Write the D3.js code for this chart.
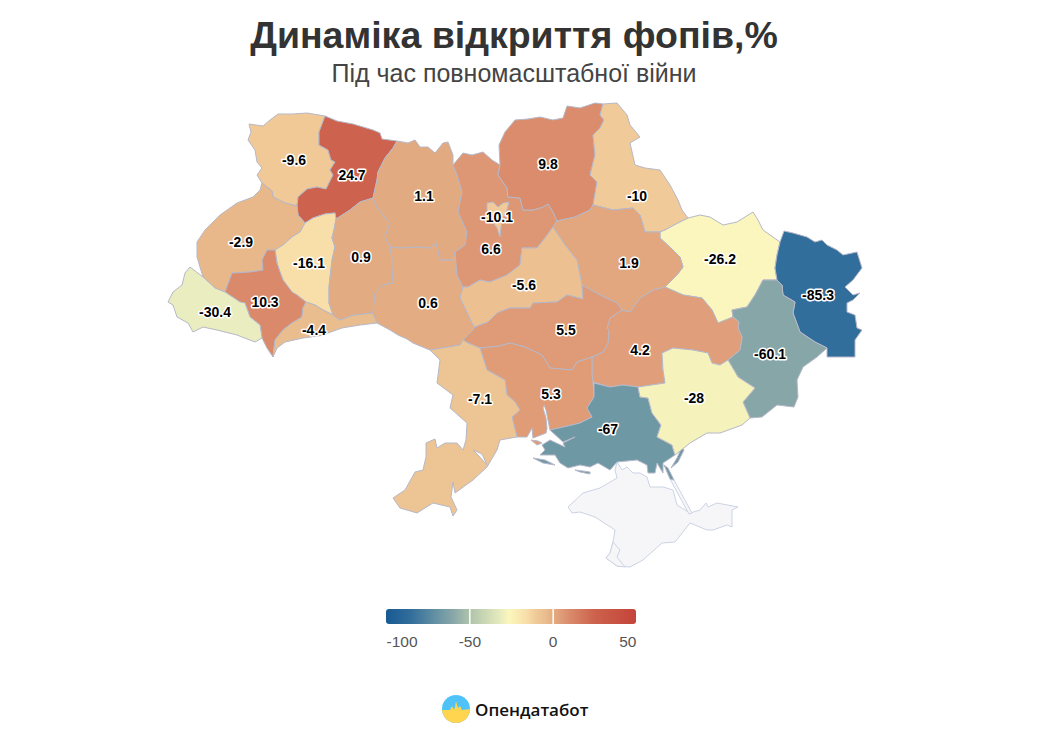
<!DOCTYPE html>
<html>
<head>
<meta charset="utf-8">
<title>Динаміка відкриття фопів</title>
<script src="https://d3js.org/d3.v7.min.js"></script>
<style>
  html, body { margin: 0; background: #fff; }
  text { font-family: "Liberation Sans", Arial, sans-serif; }
</style>
</head>
<body>
<svg id="chart" width="1039" height="736"></svg>
<script>
// region names and values
var regionNames = ['Волинська','Рівненська','Львівська','Тернопільська','Івано-Франківська','Закарпатська','Чернівецька','Хмельницька','Житомирська','Вінницька','Київська','м. Київ','Чернігівська','Сумська','Харківська','Луганська','Донецька','Дніпропетровська','Полтавська','Черкаська','Кіровоградська','Миколаївська','Одеська','Херсонська','Запорізька'];
var regionValues = [-9.6,24.7,-2.9,-16.1,10.3,-30.4,-4.4,0.9,1.1,0.6,6.6,-10.1,9.8,-10,-26.2,-85.3,-60.1,4.2,1.9,-5.6,5.5,5.3,-7.1,-67,-28];

// legend
var legendTicks = [-100,-50,0,50];
var colorDomain = [-100,-85,-67,-60,-50,-30,-28,-26,-16,-10,-5,0,5,10,25,50];
var colorRange = ['#175a93','#336e9b','#6f98a5','#87a6a8','#aec3ab','#ebeebf','#f5f3bb','#fbf6bd','#f8dfaa','#f0ca98','#ebbf90','#e3ae83','#e09c78','#da8b6c','#cd624d','#c4443a'];

// outlines, in map units
var volyn = [[249,124],[263,126],[270,120],[278,114],[293,114],[307,113],[325,116],[319,132],[319,145],[328,150],[331,160],[335,162],[330,170],[333,175],[326,189],[317,187],[307,189],[298,197],[297,206],[285,203],[273,197],[272,191],[262,183],[257,175],[262,168],[257,162],[255,150],[248,140],[251,132]];
var rivne = [[325,116],[337,121],[353,124],[373,130],[380,133],[382,139],[397,141],[393,148],[385,158],[378,172],[377,180],[373,198],[360,202],[350,210],[336,219],[335,213],[325,214],[313,218],[305,223],[298,215],[297,206],[298,197],[307,189],[317,187],[326,189],[333,175],[330,170],[335,162],[331,160],[328,150],[319,145],[319,132]];
var lviv = [[262,183],[272,191],[273,197],[285,203],[297,206],[298,215],[305,223],[300,232],[292,237],[283,245],[275,250],[267,250],[262,260],[263,270],[250,272],[232,273],[225,292],[215,288],[203,277],[197,257],[197,242],[205,230],[220,215],[237,203],[253,197],[260,190]];
var ternopil = [[275,250],[283,245],[292,237],[300,232],[305,223],[313,218],[325,214],[335,213],[336,219],[334,230],[332,238],[335,247],[332,260],[329,287],[329,303],[333,315],[323,310],[315,305],[306,302],[297,295],[292,292],[283,280],[280,272],[277,263]];
var frankivsk = [[267,250],[275,250],[277,263],[280,272],[283,280],[292,292],[297,295],[306,302],[303,308],[302,317],[292,323],[283,330],[275,340],[273,357],[267,348],[262,338],[260,325],[250,317],[245,303],[240,302],[225,292],[232,273],[250,272],[263,270],[262,260]];
var zakarpattia = [[190,267],[203,277],[215,288],[225,292],[240,302],[245,303],[250,317],[260,325],[262,338],[255,342],[237,335],[217,330],[203,327],[193,332],[188,323],[177,317],[173,305],[168,302],[173,292],[182,285],[185,273]];
var chernivtsi = [[275,340],[283,330],[292,323],[302,317],[303,308],[306,302],[315,305],[323,310],[333,315],[340,320],[353,315],[373,313],[377,323],[360,325],[342,328],[328,333],[325,335],[303,338],[285,342],[277,348],[273,357]];
var khmelnytskyi = [[336,219],[350,210],[360,202],[373,198],[377,207],[383,215],[390,223],[385,237],[390,247],[392,258],[392,268],[393,283],[383,285],[375,293],[373,313],[353,315],[340,320],[333,315],[329,303],[329,287],[332,260],[335,247],[332,238],[334,230]];
var zhytomyr = [[397,141],[408,143],[415,140],[420,147],[428,147],[435,153],[443,143],[448,142],[453,155],[453,165],[457,175],[462,192],[458,212],[467,232],[465,245],[455,252],[453,260],[440,260],[436,243],[430,248],[417,247],[400,248],[390,247],[385,237],[390,223],[383,215],[377,207],[373,198],[377,180],[378,172],[385,158],[393,148]];
var vinnytsia = [[390,247],[400,248],[417,247],[430,248],[436,243],[440,260],[453,260],[455,252],[457,275],[463,287],[460,298],[465,308],[473,325],[475,327],[473,330],[463,340],[460,345],[442,348],[430,350],[425,348],[413,343],[407,339],[398,335],[390,330],[377,323],[373,313],[375,293],[383,285],[393,283],[392,268],[392,258]];
var kyivOblast = [[453,165],[463,153],[472,155],[483,152],[492,160],[500,165],[498,175],[507,188],[508,197],[520,198],[523,210],[533,210],[543,207],[548,204],[553,212],[557,221],[553,227],[545,238],[537,248],[522,248],[520,265],[507,275],[490,282],[480,280],[468,287],[463,287],[457,275],[455,252],[465,245],[467,232],[458,212],[462,192],[457,175]];
var kyivCity = [[487,203],[493,202],[498,207],[503,203],[509,202],[507,210],[502,220],[501,227],[500,237],[497,228],[490,218],[487,212]];
var chernihiv = [[500,165],[499,145],[505,132],[515,120],[528,119],[540,117],[553,120],[563,118],[567,106],[580,108],[595,103],[603,104],[600,115],[604,120],[600,128],[593,135],[595,155],[590,175],[597,182],[593,205],[590,210],[575,217],[557,221],[553,212],[548,204],[543,207],[533,210],[523,210],[520,198],[508,197],[507,188],[498,175]];
var sumy = [[603,104],[617,103],[627,115],[630,125],[640,137],[630,143],[635,165],[645,168],[660,170],[670,185],[678,200],[682,210],[688,218],[678,223],[665,230],[660,232],[645,232],[640,215],[633,208],[613,210],[593,205],[597,182],[590,175],[595,155],[593,135],[600,128],[604,120],[600,115]];
var kharkiv = [[660,232],[665,230],[678,223],[688,218],[700,215],[710,217],[723,225],[737,222],[753,212],[758,220],[763,230],[780,242],[777,255],[775,268],[777,280],[763,280],[755,295],[747,307],[732,310],[733,317],[718,323],[712,310],[702,298],[683,295],[665,287],[677,275],[683,267],[680,257],[673,250],[660,238]];
var luhansk = [[780,242],[784,231],[793,233],[807,237],[815,242],[822,240],[827,245],[837,250],[843,255],[857,252],[862,268],[853,280],[845,287],[853,295],[860,293],[853,300],[847,303],[847,312],[855,315],[857,328],[862,330],[855,340],[855,357],[827,357],[827,348],[815,342],[800,332],[793,313],[795,302],[783,295],[782,285],[777,280],[775,268],[777,255]];
var donetsk = [[732,310],[747,307],[755,295],[763,280],[777,280],[782,285],[783,295],[795,302],[793,313],[800,332],[815,342],[827,348],[817,357],[803,367],[797,380],[798,397],[794,407],[777,405],[762,417],[750,418],[743,402],[755,388],[738,377],[728,360],[740,350],[742,337],[738,328],[739,322],[733,317]];
var dnipro = [[630,312],[640,298],[653,290],[665,287],[683,295],[702,298],[712,310],[718,323],[733,317],[739,322],[738,328],[742,337],[740,350],[728,360],[720,365],[712,363],[708,353],[693,350],[673,348],[662,353],[663,370],[665,383],[638,387],[623,385],[610,387],[593,382],[592,375],[592,357],[603,352],[608,343],[609,330],[607,328],[610,318],[622,310]];
var poltava = [[557,221],[575,217],[590,210],[593,205],[613,210],[633,208],[640,215],[645,232],[660,232],[660,238],[673,250],[680,257],[683,267],[677,275],[665,287],[653,290],[640,298],[630,312],[622,310],[617,303],[600,295],[582,285],[580,275],[577,260],[565,245],[553,227]];
var cherkasy = [[553,227],[565,245],[577,260],[580,275],[582,285],[583,299],[567,295],[557,302],[533,303],[530,308],[510,308],[497,313],[488,322],[475,327],[473,325],[465,308],[460,298],[463,287],[468,287],[480,280],[490,282],[507,275],[520,265],[522,248],[537,248],[545,238]];
var kirovohrad = [[463,340],[473,330],[475,327],[488,322],[497,313],[510,308],[530,308],[533,303],[557,302],[567,295],[583,299],[582,285],[600,295],[617,303],[622,310],[610,318],[607,328],[609,330],[608,343],[603,352],[592,357],[577,362],[572,370],[550,368],[542,355],[525,347],[510,343],[500,346],[480,348],[468,343]];
var mykolaiv = [[480,348],[500,346],[510,343],[525,347],[542,355],[550,368],[572,370],[577,362],[592,357],[592,375],[593,382],[594,397],[587,408],[592,417],[580,423],[572,425],[550,430],[548,420],[546,410],[544,405],[543,408],[546,418],[547,428],[546,433],[533,438],[532,428],[527,437],[517,437],[512,417],[520,410],[515,402],[507,395],[505,380],[487,370]];
var mykolaivTip = [[531,440],[538,441],[542,443],[537,445]];
var odesa = [[430,350],[442,348],[460,345],[463,340],[468,343],[480,348],[487,370],[505,380],[507,395],[515,402],[520,410],[512,417],[517,437],[500,440],[497,450],[487,467],[473,480],[455,493],[453,482],[451,497],[457,510],[453,516],[450,507],[433,503],[417,513],[400,508],[393,498],[405,490],[415,472],[423,470],[426,457],[426,443],[435,439],[437,448],[445,443],[457,443],[463,450],[466,440],[467,423],[450,408],[453,395],[437,383],[440,360]];
var odesaLiman = [[473,450],[482,454],[487,465],[478,455]];
var kherson = [[594,383],[610,387],[623,385],[638,387],[640,397],[648,398],[652,413],[661,425],[657,437],[672,445],[675,455],[663,463],[663,473],[657,463],[655,473],[648,473],[647,465],[637,460],[617,462],[610,470],[598,463],[590,467],[580,465],[568,468],[560,463],[555,455],[540,455],[545,450],[542,445],[550,440],[565,447],[563,443],[575,437],[563,442],[550,430],[572,425],[580,423],[592,417],[587,408],[594,397]];
var tendra = [[533,458],[545,460],[555,465],[543,463]];
var dzharylhach = [[575,470],[590,472],[590,474],[580,472]];
var arabatNorth = [[664,465],[668,468],[674,480],[670,479]];
var henichesk = [[671,468],[677,458],[682,447],[684,450],[678,462]];
var zaporizhzhia = [[638,387],[665,383],[663,370],[662,353],[673,348],[693,350],[708,353],[712,363],[720,365],[728,360],[738,377],[755,388],[743,402],[750,418],[742,425],[720,433],[707,433],[690,443],[675,455],[672,445],[657,437],[661,425],[652,413],[648,398],[640,397]];
var crimea = [[617,462],[615,470],[617,478],[600,488],[583,493],[568,507],[572,513],[580,512],[595,517],[615,530],[613,542],[610,553],[606,558],[617,566],[630,567],[643,560],[662,543],[675,542],[690,523],[707,530],[713,530],[727,525],[732,527],[732,510],[738,507],[717,503],[708,507],[706,503],[700,510],[690,513],[677,505],[673,490],[663,487],[650,487],[647,477],[640,473],[633,473],[627,467],[622,470]];
var sevastopol = [[613,542],[620,550],[617,557],[625,567],[617,566],[606,558],[610,553]];
var arabatSouth = [[670,479],[674,480],[692,513],[689,514]];

var regionRings = [[volyn],[rivne],[lviv],[ternopil],[frankivsk],[zakarpattia],[chernivtsi],[khmelnytskyi],[zhytomyr],[vinnytsia],[kyivOblast],[kyivCity],[chernihiv],[sumy],[kharkiv],[luhansk],[donetsk],[dnipro],[poltava],[cherkasy],[kirovohrad],[mykolaiv,mykolaivTip],[odesa,odesaLiman],[kherson,tendra,dzharylhach,arabatNorth,henichesk],[zaporizhzhia]];
var labelPoints = [[294,160],[352,175],[241,242],[309,263],[265,302],[215,312],[314,330],[361,257],[424,196],[428,303],[491,249],[497,217],[548,164],[637,196],[720,259],[818,295],[770,354],[640,350],[629,263],[524,285],[566,330],[551,394],[480,399],[608,429],[694,398]];

var svg = d3.select('#chart');
var color = d3.scaleLinear().domain(colorDomain).range(colorRange);
var path = d3.geoPath(d3.geoIdentity());

function closeRing(ring){ return ring.concat([ring[0]]); }
function toFeature(rings){
  return {type:'Feature', geometry:{type:'Polygon', coordinates:rings.map(closeRing)}};
}

// Crimea has no value, light grey
svg.append('g').selectAll('path')
  .data([[crimea],[sevastopol],[arabatSouth]])
  .join('path')
  .attr('d', d => path(toFeature(d)))
  .attr('fill', '#f6f6f9')
  .attr('stroke', '#ccd3e4')
  .attr('stroke-width', 1);

svg.append('g').selectAll('path')
  .data(regionRings)
  .join('path')
  .attr('d', d => path(toFeature(d)))
  .attr('fill', (d,i) => color(regionValues[i]))
  .attr('fill-rule', 'evenodd')
  .attr('stroke', '#b6b8c8')
  .attr('stroke-width', 1)
  .attr('stroke-linejoin', 'round')
  .append('title').text((d,i) => regionNames[i]);

svg.append('g').selectAll('text')
  .data(regionValues)
  .join('text')
  .attr('x', (d,i) => labelPoints[i][0])
  .attr('y', (d,i) => labelPoints[i][1])
  .attr('dy', '0.35em')
  .attr('text-anchor', 'middle')
  .attr('font-size', 14)
  .attr('font-weight', 'bold')
  .attr('fill', '#000')
  .attr('stroke', '#fff')
  .attr('stroke-width', 3)
  .attr('stroke-linejoin', 'round')
  .attr('paint-order', 'stroke')
  .text(d => d);

// titles
svg.append('text').attr('x', 514).attr('y', 48).attr('text-anchor', 'middle')
  .attr('font-size', 37.5).attr('font-weight', 'bold').attr('fill', '#333')
  .text('Динаміка відкриття фопів,%');
svg.append('text').attr('x', 514).attr('y', 82).attr('text-anchor', 'middle')
  .attr('font-size', 25).attr('fill', '#444')
  .text('Під час повномасштабної війни');

// colour legend
var legendX = d3.scaleLinear().domain([-100,50]).range([386,636]);
var grad = svg.append('defs').append('linearGradient').attr('id', 'legendGrad');
grad.selectAll('stop')
  .data(colorDomain)
  .join('stop')
  .attr('offset', d => (d + 100) / 150)
  .attr('stop-color', d => color(d));

svg.append('rect')
  .attr('x', legendX(-100)).attr('y', 609)
  .attr('width', legendX(50) - legendX(-100)).attr('height', 15)
  .attr('rx', 3)
  .attr('fill', 'url(#legendGrad)');

var legendAxis = svg.append('g')
  .attr('transform', 'translate(0,609)')
  .call(d3.axisBottom(legendX).tickValues(legendTicks).tickFormat(d => d).tickSize(15).tickPadding(12));
legendAxis.select('.domain').remove();
legendAxis.selectAll('.tick line')
  .attr('stroke', d => (d === -100 || d === 50) ? 'none' : '#fff')
  .attr('stroke-width', 1.5);
legendAxis.selectAll('.tick text')
  .attr('font-family', '"Liberation Sans", Arial, sans-serif')
  .attr('font-size', 15.5)
  .attr('fill', '#555')
  .attr('text-anchor', d => d === -100 ? 'start' : d === 50 ? 'end' : 'middle');

// Opendatabot logo
var logo = svg.append('g').attr('transform', 'translate(456,709)');
logo.append('clipPath').attr('id', 'logoClip').append('circle').attr('r', 14);
var logoClip = logo.append('g').attr('clip-path', 'url(#logoClip)');
logoClip.append('rect').attr('x', -14).attr('y', -14).attr('width', 28).attr('height', 28).attr('fill', '#4fc3f7');
logoClip.append('path')
  .attr('d', 'M-14,1 L-6,1 L-4,-3 L-2,1 L-1,-2 L0,-8 L2,-1 L4,-3 L6,1 L14,0 L14,14 L-14,14 Z')
  .attr('fill', '#ffd54f');

svg.append('text').attr('x', 475).attr('y', 716)
  .style('font-family', '"Open Sans", "Noto Sans", sans-serif')
  .attr('font-size', 17).attr('font-weight', 600).attr('fill', '#111')
  .text('Опендатабот');
</script>
</body>
</html>
